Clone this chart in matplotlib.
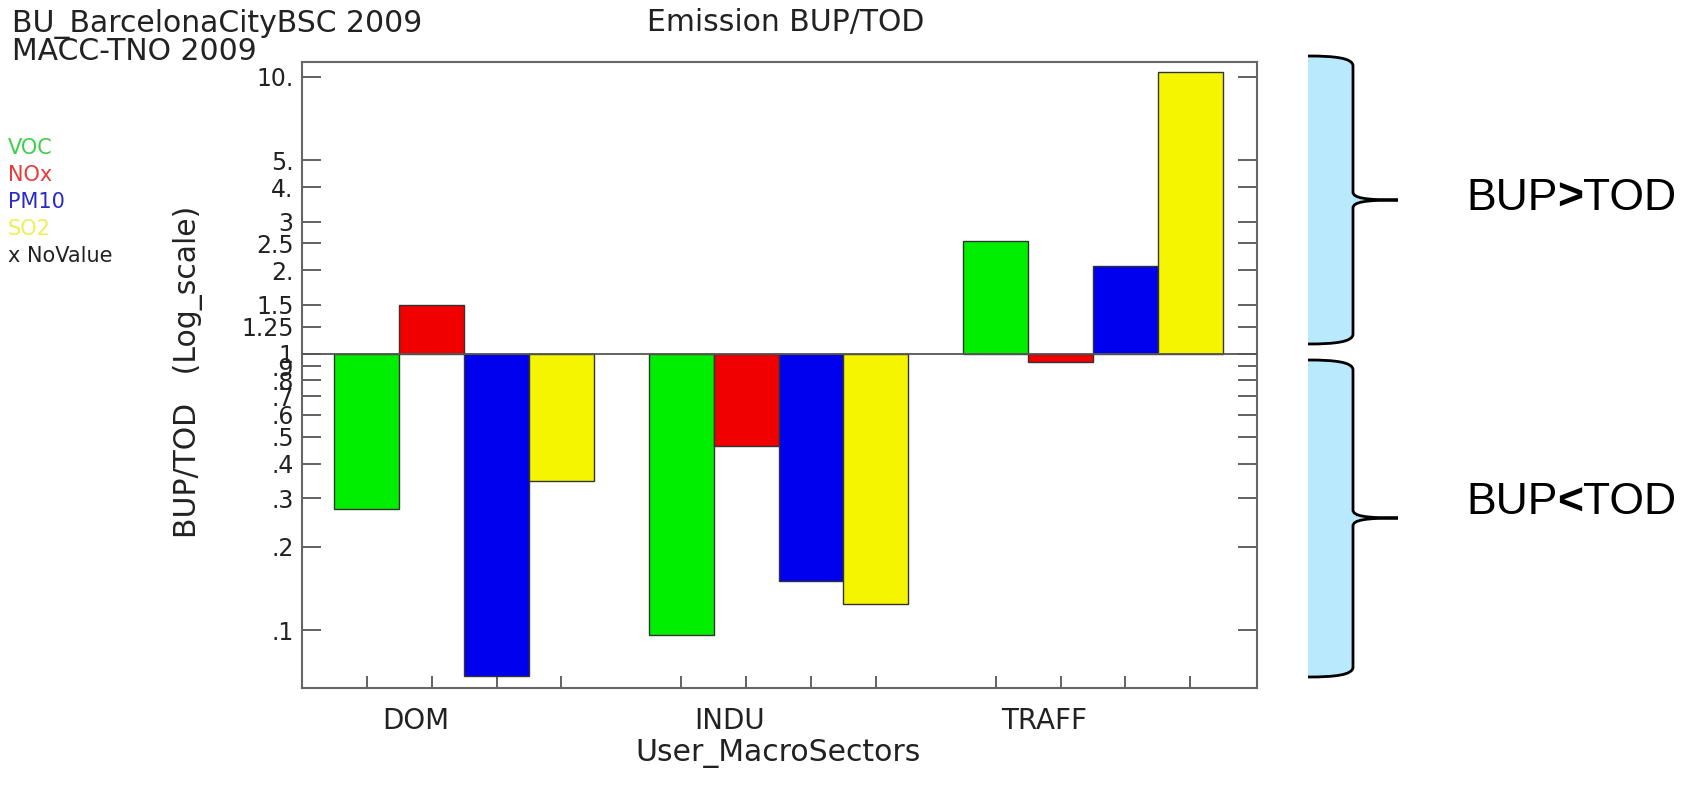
import numpy as np
import matplotlib
matplotlib.use("Agg")
import matplotlib.pyplot as plt
from matplotlib.path import Path
from matplotlib.patches import PathPatch
from matplotlib.ticker import FixedLocator, NullLocator

# BUP/TOD emission ratios per macro sector (log scale, centred on 1)
sectors = ["DOM", "INDU", "TRAFF"]
species = ["VOC", "NOx", "PM10", "SO2"]
voc = [0.275, 0.096, 2.56]
nox = [1.50, 0.461, 0.93]
pm10 = [0.068, 0.150, 2.08]
so2 = [0.347, 0.124, 10.4]

ytick_vals = [10, 5, 4, 3, 2.5, 2, 1.5, 1.25, 1, .9, .8, .7, .6, .5, .4, .3, .2, .1]
ytick_text = ["10.", "5.", "4.", "3", "2.5", "2.", "1.5", "1.25", "1",
              ".9", ".8", ".7", ".6", ".5", ".4", ".3", ".2", ".1"]

colors = ["#00ee00", "#f00000", "#0000ee", "#f5f500"]
legend_colors = ["#3ccf4a", "#e83a3a", "#2a2ac8", "#eeee55", "#222222"]

W, H = 1707, 794
fig = plt.figure(figsize=(W / 100, H / 100), dpi=100)
fig.patch.set_facecolor("white")

ax = fig.add_axes([302 / W, 1 - 688 / H, (1257 - 302) / W, (688 - 62) / H])

group_gap = 4.85
series = [voc, nox, pm10, so2]
bar_x = []
for k, vals in enumerate(series):
    xs = np.arange(len(sectors)) * group_gap + k
    bar_x.extend(xs)
    v = np.array(vals)
    ax.bar(xs, v - 1, bottom=1, width=1.0, color=colors[k],
           edgecolor="#333333", linewidth=1, zorder=2)

ax.axhline(1, color="#555555", lw=1.3, zorder=3)

ax.set_yscale("log")
ax.set_ylim(0.0617, 11.33)
ax.set_xlim(-1.0, 13.73)

ax.yaxis.set_major_locator(FixedLocator(ytick_vals))
ax.yaxis.set_minor_locator(NullLocator())
ax.set_yticklabels(ytick_text)
ax.tick_params(axis="y", which="major", direction="in", length=14, width=1.3,
               color="#555555", right=True, labelsize=17, pad=6,
               labelcolor="#222222")

cat_x = np.arange(len(sectors)) * group_gap + 0.75
ax.set_xticks(cat_x)
ax.set_xticklabels(sectors)
ax.set_xticks(sorted(bar_x), minor=True)
ax.tick_params(axis="x", which="major", length=0, labelsize=20, pad=14,
               labelcolor="#222222")
ax.tick_params(axis="x", which="minor", direction="in", length=9, width=1.3,
               color="#555555")
for s in ax.spines.values():
    s.set_color("#666666")
    s.set_linewidth(1.5)

# overlay in pixel coordinates for the free text and the braces
ov = fig.add_axes([0, 0, 1, 1], facecolor="none")
ov.set_xlim(0, W)
ov.set_ylim(H, 0)
ov.axis("off")

txt = dict(color="#222222", fontsize=21.5)
ov.text(12, 24, "BU_BarcelonaCityBSC 2009", ha="left", va="center", **txt)
ov.text(12, 52, "MACC-TNO 2009", ha="left", va="center", **txt)
ov.text(786, 22, "Emission BUP/TOD", ha="center", va="center", **txt)
ov.text(778, 753, "User_MacroSectors", ha="center", va="center", **txt)
ov.text(188, 372, "BUP/TOD   (Log_scale)", ha="center", va="center",
        rotation=90, **txt)

legend_labels = species + ["x NoValue"]
legend_y = [148, 175, 202, 229, 256]
for lab, yy, c in zip(legend_labels, legend_y, legend_colors):
    ov.text(8, yy, lab, ha="left", va="center", color=c, fontsize=15)


def brace(top, bottom, tip):
    x0, x1, xt = 1308, 1353, 1398
    verts = [(x0, top), (1335, top), (x1, top + 2), (x1, top + 10),
             (x1, tip - 8),
             (x1, tip - 2), (1365, tip), (xt, tip),
             (1365, tip), (x1, tip + 2), (x1, tip + 8),
             (x1, bottom - 10),
             (x1, bottom - 2), (1335, bottom), (x0, bottom)]
    codes = [Path.MOVETO, Path.CURVE4, Path.CURVE4, Path.CURVE4,
             Path.LINETO,
             Path.CURVE4, Path.CURVE4, Path.CURVE4,
             Path.CURVE4, Path.CURVE4, Path.CURVE4,
             Path.LINETO,
             Path.CURVE4, Path.CURVE4, Path.CURVE4]
    fill = Path(verts + [(x0, top)], codes + [Path.LINETO])
    ov.add_patch(PathPatch(fill, facecolor="#b8e9fc", edgecolor="none"))
    ov.add_patch(PathPatch(Path(verts, codes), facecolor="none",
                           edgecolor="black", lw=2))


brace(56, 344, 200)
brace(360, 677, 518)

bfont = dict(family="Liberation Sans", fontsize=32, color="black")
for sign, yy in [(">", 198), ("<", 503)]:
    t1 = ov.text(1466, yy, "BUP", ha="left", va="center", **bfont)
    t2 = ov.annotate(sign, xy=(1, 0), xycoords=t1, ha="left", va="bottom",
                     fontweight="bold", **bfont)
    ov.annotate("TOD", xy=(1, 0), xycoords=t2, ha="left", va="bottom", **bfont)

fig.savefig("out.png", dpi=100)
